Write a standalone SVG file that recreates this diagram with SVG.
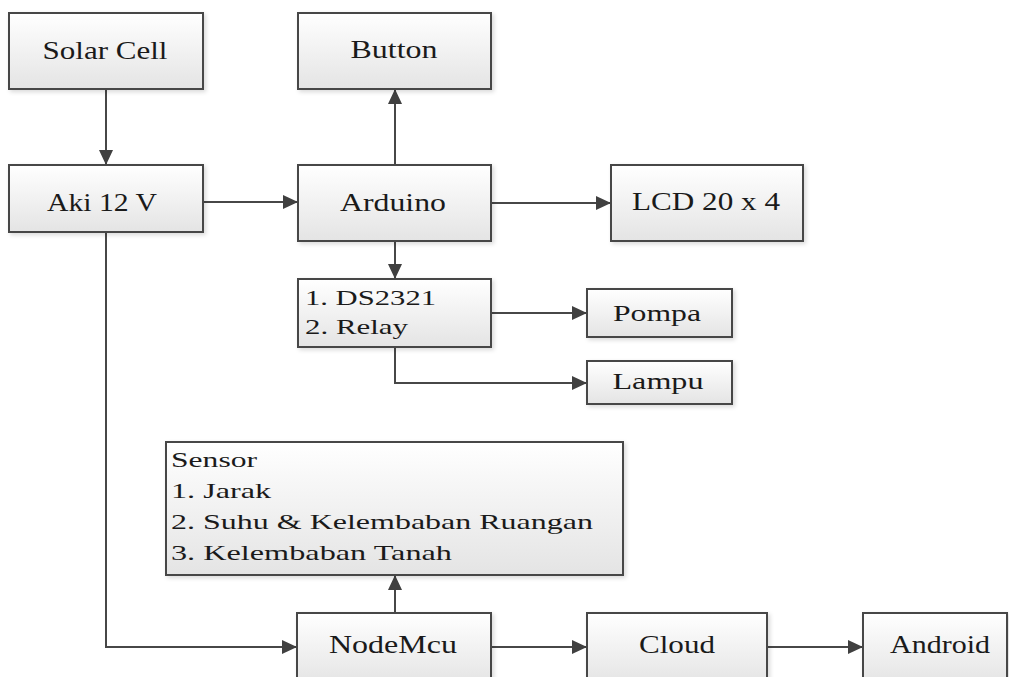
<svg xmlns="http://www.w3.org/2000/svg" width="1009" height="677" viewBox="0 0 1009 677">
<style>
.box{fill:url(#g);stroke:#474747;stroke-width:2;filter:url(#sh)}
.t{font-family:"Liberation Serif","Times New Roman",serif;font-size:26px;fill:#1a1a1a;text-anchor:middle}
.l{font-family:"Liberation Serif","Times New Roman",serif;font-size:22px;fill:#1a1a1a}
.m{font-family:"Liberation Serif","Times New Roman",serif;font-size:24px;fill:#1a1a1a;text-anchor:middle}
.c{fill:none;stroke:#474747;stroke-width:2;marker-end:url(#ah)}
</style>
<defs>
<linearGradient id="g" x1="0" y1="0" x2="0" y2="1">
<stop offset="0" stop-color="#ffffff"/>
<stop offset="1" stop-color="#e4e4e4"/>
</linearGradient>
<filter id="sh" x="-10%" y="-10%" width="130%" height="130%">
<feDropShadow dx="2" dy="2" stdDeviation="2" flood-color="#000" flood-opacity="0.15"/>
</filter>
<marker id="ah" markerUnits="userSpaceOnUse" markerWidth="16" markerHeight="14" refX="15" refY="7" orient="auto">
<path d="M0,0 L15,7 L0,14 z" fill="#404040"/>
</marker>
</defs>
<rect width="1009" height="677" fill="#ffffff"/>
<g id="connectors">
<path class="c" d="M106,89 V165"/>
<path class="c" d="M203,202 H298"/>
<path class="c" d="M395,165 V89"/>
<path class="c" d="M491,203 H611"/>
<path class="c" d="M395,241 V279"/>
<path class="c" d="M491,313 H587"/>
<path class="c" d="M395,347 V383 H587"/>
<path class="c" d="M106,232 V647 H297"/>
<path class="c" d="M395,613 V575"/>
<path class="c" d="M491,647 H587"/>
<path class="c" d="M767,647 H863"/>
</g>
<g id="solar"><rect class="box" x="9" y="13" width="194" height="76"/><text class="t" x="105" y="59" textLength="125" lengthAdjust="spacingAndGlyphs">Solar Cell</text></g>
<g id="aki"><rect class="box" x="9" y="165" width="194" height="67"/><text class="t" x="102" y="211" textLength="110" lengthAdjust="spacingAndGlyphs">Aki 12 V</text></g>
<g id="button"><rect class="box" x="298" y="13" width="193" height="76"/><text class="t" x="394" y="58" textLength="87" lengthAdjust="spacingAndGlyphs">Button</text></g>
<g id="arduino"><rect class="box" x="298" y="165" width="193" height="76"/><text class="t" x="393" y="211" textLength="106" lengthAdjust="spacingAndGlyphs">Arduino</text></g>
<g id="lcd"><rect class="box" x="611" y="165" width="192" height="76"/><text class="t" x="706" y="210" textLength="148" lengthAdjust="spacingAndGlyphs">LCD 20 x 4</text></g>
<g id="ds"><rect class="box" x="298" y="279" width="193" height="68"/><text class="l" x="305" y="305" textLength="131" lengthAdjust="spacingAndGlyphs">1. DS2321</text><text class="l" x="305" y="334" textLength="103" lengthAdjust="spacingAndGlyphs">2. Relay</text></g>
<g id="pompa"><rect class="box" x="587" y="289" width="145" height="48"/><text class="m" x="657" y="321" textLength="88" lengthAdjust="spacingAndGlyphs">Pompa</text></g>
<g id="lampu"><rect class="box" x="587" y="361" width="145" height="43"/><text class="m" x="658" y="389" textLength="91" lengthAdjust="spacingAndGlyphs">Lampu</text></g>
<g id="sensor"><rect class="box" x="166" y="442" width="457" height="133"/>
<text class="l" x="171" y="467" textLength="86" lengthAdjust="spacingAndGlyphs">Sensor</text>
<text class="l" x="171" y="498" textLength="100" lengthAdjust="spacingAndGlyphs">1. Jarak</text>
<text class="l" x="171" y="529" textLength="422" lengthAdjust="spacingAndGlyphs">2. Suhu &amp; Kelembaban Ruangan</text>
<text class="l" x="171" y="560" textLength="281" lengthAdjust="spacingAndGlyphs">3. Kelembaban Tanah</text></g>
<g id="nodemcu"><rect class="box" x="297" y="613" width="194" height="72"/><text class="t" x="393" y="653" textLength="128" lengthAdjust="spacingAndGlyphs">NodeMcu</text></g>
<g id="cloud"><rect class="box" x="587" y="613" width="180" height="72"/><text class="t" x="677" y="653" textLength="76" lengthAdjust="spacingAndGlyphs">Cloud</text></g>
<g id="android"><rect class="box" x="863" y="613" width="144" height="72"/><text class="t" x="940" y="653" textLength="100" lengthAdjust="spacingAndGlyphs">Android</text></g>
</svg>
